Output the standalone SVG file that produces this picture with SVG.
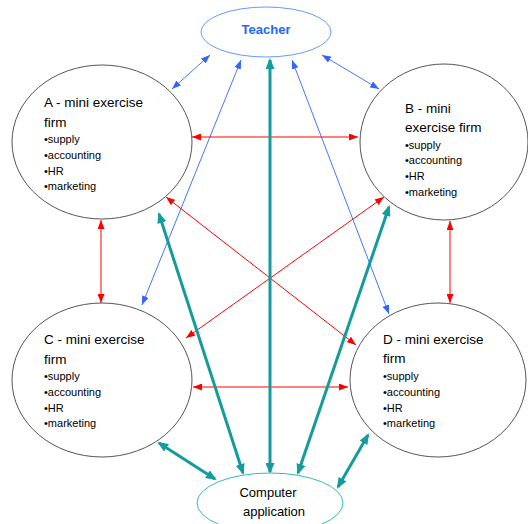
<svg xmlns="http://www.w3.org/2000/svg" width="528" height="524" viewBox="0 0 528 524">
  <style>
    .firm { fill: #ffffff; stroke: #555555; stroke-width: 1; }
    .title { font-family: "Liberation Sans", Arial, sans-serif; font-size: 13.5px; fill: #000000; }
    .item { font-family: "Liberation Sans", Arial, sans-serif; font-size: 11px; fill: #000000; }
    .blue { stroke: #4477ff; stroke-width: 1; fill: none; marker-start: url(#hb); marker-end: url(#hb); }
    .red { stroke: #ff0000; stroke-width: 1; fill: none; marker-start: url(#hr); marker-end: url(#hr); }
    .teal { stroke: #159b9b; stroke-width: 3; fill: none; marker-start: url(#ht); marker-end: url(#ht); }
  </style>
  <defs>
    <marker id="hb" viewBox="0 0 9 7" refX="9" refY="3.5" markerWidth="9" markerHeight="7" markerUnits="userSpaceOnUse" orient="auto-start-reverse">
      <path d="M0,0 L9,3.5 L0,7 z" fill="#3366ff"/>
    </marker>
    <marker id="hr" viewBox="0 0 9 7" refX="9" refY="3.5" markerWidth="9" markerHeight="7" markerUnits="userSpaceOnUse" orient="auto-start-reverse">
      <path d="M0,0 L9,3.5 L0,7 z" fill="#ff0000"/>
    </marker>
    <marker id="ht" viewBox="0 0 11 9" refX="9" refY="4.5" markerWidth="11" markerHeight="9" markerUnits="userSpaceOnUse" orient="auto-start-reverse">
      <path d="M0,0 L11,4.5 L0,9 z" fill="#159b9b"/>
    </marker>
  </defs>

  <rect width="528" height="524" fill="#ffffff"/>

  <!-- connectors -->
  <g id="connectors">
    <line class="blue" x1="210" y1="55" x2="172" y2="89"/>
    <line class="blue" x1="322" y1="55" x2="379" y2="89"/>
    <line class="blue" x1="241" y1="60" x2="142" y2="305"/>
    <line class="blue" x1="292" y1="60" x2="389" y2="314"/>

    <line class="red" x1="192" y1="137" x2="358" y2="137"/>
    <line class="red" x1="101" y1="220" x2="101" y2="303"/>
    <line class="red" x1="450" y1="221" x2="450" y2="303"/>
    <line class="red" x1="193" y1="387" x2="348" y2="387"/>
    <line class="red" x1="166" y1="197" x2="356" y2="345"/>
    <line class="red" x1="384" y1="197" x2="186" y2="338"/>

    <line class="teal" x1="270" y1="60" x2="270" y2="472"/>
    <line class="teal" x1="159" y1="214" x2="243" y2="473"/>
    <line class="teal" x1="389" y1="207" x2="298" y2="473"/>
    <line class="teal" x1="159" y1="443" x2="215" y2="479"/>
    <line class="teal" x1="368" y1="435" x2="338" y2="487"/>
  </g>

  <!-- teacher -->
  <g id="teacher">
    <ellipse cx="266" cy="32" rx="65" ry="25" fill="#ffffff" stroke="#6699ff" stroke-width="1"/>
    <text x="266" y="34" text-anchor="middle" font-family="Liberation Sans, Arial, sans-serif" font-size="13px" font-weight="bold" fill="#2266ff">Teacher</text>
  </g>

  <!-- firm A -->
  <g id="firm-a">
    <ellipse class="firm" cx="102" cy="142" rx="90" ry="77"/>
    <text class="title" x="44" y="107">A - mini exercise</text>
    <text class="title" x="44" y="127">firm</text>
    <text class="item" x="44" y="143">•supply</text>
    <text class="item" x="44" y="159">•accounting</text>
    <text class="item" x="44" y="175">•HR</text>
    <text class="item" x="44" y="190">•marketing</text>
  </g>

  <!-- firm B -->
  <g id="firm-b">
    <ellipse class="firm" cx="444" cy="142" rx="84" ry="78"/>
    <text class="title" x="405" y="113">B - mini</text>
    <text class="title" x="405" y="132">exercise firm</text>
    <text class="item" x="405" y="149">•supply</text>
    <text class="item" x="405" y="164">•accounting</text>
    <text class="item" x="405" y="180">•HR</text>
    <text class="item" x="405" y="196">•marketing</text>
  </g>

  <!-- firm C -->
  <g id="firm-c">
    <ellipse class="firm" cx="102" cy="380" rx="90" ry="77"/>
    <text class="title" x="44" y="344">C - mini exercise</text>
    <text class="title" x="44" y="364">firm</text>
    <text class="item" x="44" y="380">•supply</text>
    <text class="item" x="44" y="396">•accounting</text>
    <text class="item" x="44" y="412">•HR</text>
    <text class="item" x="44" y="427">•marketing</text>
  </g>

  <!-- firm D -->
  <g id="firm-d">
    <ellipse class="firm" cx="438" cy="380" rx="88" ry="77"/>
    <text class="title" x="383" y="344">D - mini exercise</text>
    <text class="title" x="383" y="363">firm</text>
    <text class="item" x="383" y="380">•supply</text>
    <text class="item" x="383" y="396">•accounting</text>
    <text class="item" x="383" y="412">•HR</text>
    <text class="item" x="383" y="427">•marketing</text>
  </g>

  <!-- computer application -->
  <g id="computer">
    <ellipse cx="270" cy="503" rx="73" ry="30" fill="#ffffff" stroke="#33bbbb" stroke-width="1"/>
    <text x="268" y="497" text-anchor="middle" font-family="Liberation Sans, Arial, sans-serif" font-size="13px" fill="#000000">Computer</text>
    <text x="274" y="516" text-anchor="middle" font-family="Liberation Sans, Arial, sans-serif" font-size="13px" fill="#000000">application</text>
  </g>
</svg>
